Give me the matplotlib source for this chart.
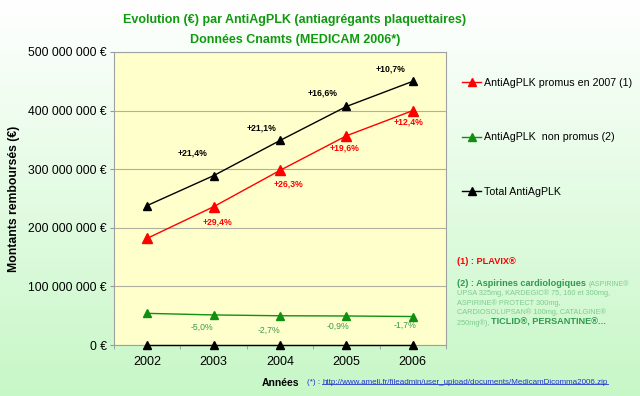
import numpy as np
import matplotlib
matplotlib.use('Agg')
import matplotlib.pyplot as plt
from matplotlib.lines import Line2D

plt.rcParams['font.family'] = ['Liberation Sans', 'DejaVu Sans']

# data (euros)
years = ['2002', '2003', '2004', '2005', '2006']
promus = [182e6, 236e6, 298e6, 357e6, 400e6]
non_promus = [54e6, 51.3e6, 49.9e6, 49.5e6, 48.6e6]
total = [238e6, 289e6, 349e6, 407e6, 450e6]
zero = [0, 0, 0, 0, 0]

promus_pct = ['+29,4%', '+26,3%', '+19,6%', '+12,4%']
non_promus_pct = ['-5,0%', '-2,7%', '-0,9%', '-1,7%']
total_pct = ['+21,4%', '+21,1%', '+16,6%', '+10,7%']

labels = ['AntiAgPLK promus en 2007 (1)', 'AntiAgPLK  non promus (2)', 'Total AntiAgPLK']

RED = '#ff0000'
GREEN = '#109010'
DKGREEN = '#2f9a4f'
LTGREEN = '#7dcc8c'
TITLE_GREEN = '#109a10'

fig = plt.figure(figsize=(6.4, 3.96), dpi=100)

# background gradient white -> light green
bg = fig.add_axes([0, 0, 1, 1], zorder=-10)
top = np.array([1.0, 1.0, 1.0])
bottom = np.array([0.78, 0.97, 0.78])
t = np.linspace(0, 1, 256)[:, None]
grad = top * (1 - t) + bottom * t
bg.imshow(grad[:, None, :], aspect='auto', extent=[0, 1, 0, 1])
bg.axis('off')

ax = fig.add_axes([114 / 640, 51 / 396, 332 / 640, 293 / 396])
ax.set_facecolor('#ffffcc')
x = np.arange(len(years))

ax.plot(x, zero, color='black', lw=1, marker='^', ms=6, zorder=4, clip_on=False)
ax.plot(x, non_promus, color=GREEN, lw=1, marker='^', ms=6, zorder=4)
ax.plot(x, promus, color=RED, lw=1, marker='^', ms=6.5, zorder=4)
ax.plot(x, total, color='black', lw=1, marker='^', ms=6, zorder=4)

ax.set_xlim(-0.5, len(years) - 0.5)
ax.set_ylim(0, 500e6)
ax.set_yticks(np.arange(0, 500e6 + 1, 100e6))
ax.set_yticklabels([f'{int(v):,} €'.replace(',', ' ') for v in ax.get_yticks()], fontsize=8.7)
ax.set_xticks(x)
ax.set_xticklabels(years, fontsize=9)
ax.set_xticks(np.arange(-0.5, len(years)), minor=True)
ax.tick_params(axis='x', which='major', length=0, pad=8)
ax.tick_params(axis='x', which='minor', length=3, color='#999999')
ax.tick_params(axis='y', length=3, color='#999999', pad=2)
ax.yaxis.grid(True, color='#b0b0a0', lw=0.8)
ax.set_axisbelow(True)
for s in ax.spines.values():
    s.set_color('#a0a0a0')

ax.set_ylabel('Montants remboursés (€)', fontsize=8.8, fontweight='bold', labelpad=6)

# growth labels
red_off = [(3.5, -15), (9, -14), (-1.5, -12), (-4, -11)]
blk_off = [(-21.5, 22.5), (-18, 12.5), (-23.5, 13), (-22, 12)]
grn_off = [(-11.5, -12), (-11, -15), (-8.5, -10.5), (-8, -9)]
for i in range(4):
    ax.annotate(promus_pct[i], (x[i + 1], promus[i + 1]), xytext=red_off[i], textcoords='offset pixels',
                ha='center', va='center', fontsize=6.2, fontweight='bold', color=RED)
    ax.annotate(total_pct[i], (x[i + 1], total[i + 1]), xytext=blk_off[i], textcoords='offset pixels',
                ha='center', va='center', fontsize=6.2, fontweight='bold', color='black')
    ax.annotate(non_promus_pct[i], (x[i + 1], non_promus[i + 1]), xytext=grn_off[i], textcoords='offset pixels',
                ha='center', va='center', fontsize=6.3, color='#3c9a4c')

# titles
fig.text(295 / 640, 1 - 20 / 396, 'Evolution (€) par AntiAgPLK (antiagrégants plaquettaires)',
         ha='center', va='center', fontsize=9, fontweight='bold', color=TITLE_GREEN)
fig.text(295 / 640, 1 - 40 / 396, 'Données Cnamts (MEDICAM 2006*)',
         ha='center', va='center', fontsize=9, fontweight='bold', color=TITLE_GREEN)

fig.text(262 / 640, 1 - 383 / 396, 'Années', ha='left', va='center', fontsize=7.5, fontweight='bold')

# legend
handles = [Line2D([], [], color=RED, marker='^', ms=5.5, lw=1),
           Line2D([], [], color=GREEN, marker='^', ms=5.5, lw=1),
           Line2D([], [], color='black', marker='^', ms=5.5, lw=1)]
fig.legend(handles, labels, loc='upper left', bbox_to_anchor=(462 / 640, 1 - 78 / 396),
           frameon=False, fontsize=7.7, labelspacing=4.15, handlelength=1.8, handletextpad=0.3,
           borderpad=0, borderaxespad=0)

# notes on the right
fig.text(457 / 640, 1 - 262 / 396, '(1) : PLAVIX®', ha='left', va='center', fontsize=6.6,
         fontweight='bold', color=RED)
t1 = fig.text(457 / 640, 1 - 284 / 396, '(2) : Aspirines cardiologiques ', ha='left', va='center',
              fontsize=6.6, fontweight='bold', color=DKGREEN)
ax.annotate('(ASPIRINE®', xy=(1, 0), xycoords=t1, va='bottom', ha='left',
            fontsize=5, color=LTGREEN, annotation_clip=False)
small_lines = ['UPSA 325mg, KARDEGIC® 75, 160 et 300mg,',
               'ASPIRINE® PROTECT 300mg,',
               'CARDIOSOLUPSAN® 100mg, CATALGINE®']
for k, s in enumerate(small_lines):
    fig.text(457 / 640, 1 - (293.5 + 9.5 * k) / 396, s, ha='left', va='center', fontsize=5.3, color=LTGREEN)
t5 = fig.text(457 / 640, 1 - 323 / 396, '250mg®), ', ha='left', va='center', fontsize=5.3, color=LTGREEN)
ax.annotate('TICLID®, PERSANTINE®...', xy=(1, 0), xycoords=t5, va='bottom', ha='left',
            fontsize=6.6, fontweight='bold', color=DKGREEN, annotation_clip=False)

# source link
t6 = fig.text(307 / 640, 1 - 382 / 396, '(*) : ', ha='left', va='center', fontsize=5.8, color='#2233cc')
url = ax.annotate('http://www.ameli.fr/fileadmin/user_upload/documents/MedicamDicomma2006.zip',
                  xy=(1, 0), xycoords=t6, va='bottom', ha='left', fontsize=5.8, color='#2233cc',
                  annotation_clip=False)
fig.canvas.draw()
bb = url.get_window_extent()
W, H = fig.bbox.width, fig.bbox.height
fig.add_artist(Line2D([bb.x0 / W, bb.x1 / W], [(bb.y0 + 1.5) / H, (bb.y0 + 1.5) / H],
                      color='#2233cc', lw=0.6))

fig.savefig('out.png', dpi=100)
